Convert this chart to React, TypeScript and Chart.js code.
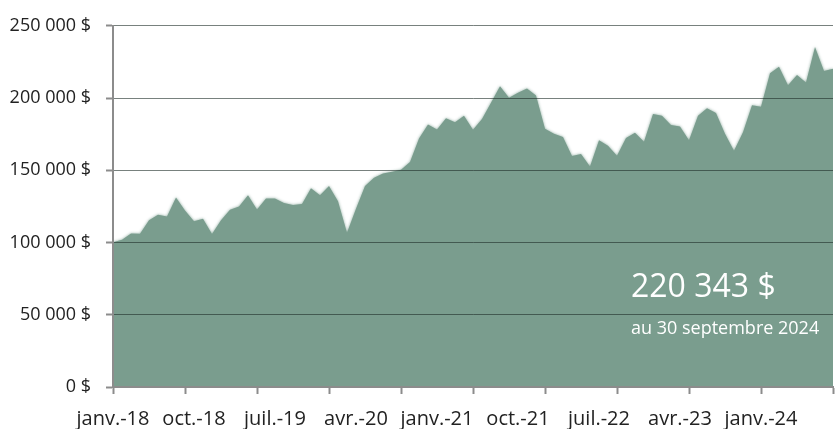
import React, { useEffect, useRef } from 'react';
import { Chart, registerables } from 'chart.js';

Chart.register(...registerables);

// ---- Data ----
const MONTH_NAMES = ['janv.', 'févr.', 'mars', 'avr.', 'mai', 'juin', 'juil.', 'août', 'sept.', 'oct.', 'nov.', 'déc.'];
const START_YEAR = 2018;

// Monthly portfolio value, janv.-18 .. sept.-24
const VALUES = [
  100200, 102000, 106300, 106000, 115400, 119200, 118000, 131200, 122200, 114700, 116500, 105900,
  115400, 122600, 124900, 132800, 122800, 130500, 130500, 127400, 126000, 126700, 137500, 132800,
  139100, 128500, 106800, 123300, 139100, 144800, 147700, 148900, 150400, 155700, 172000, 181700,
  178300, 186000, 183200, 187800, 178000, 185500, 196800, 208100, 200200, 203600, 206600, 201800,
  178700, 175300, 173000, 159800, 161300, 152700, 170800, 166900, 160000, 172400, 176000, 169700,
  188900, 187800, 181400, 180300, 170800, 187800, 193000, 189600, 175300, 163500, 176400, 195000,
  193900, 217100, 221700, 208800, 216000, 210800, 235300, 218800, 220343,
];

const CATEGORIES = VALUES.map(
  (_, i) => `${MONTH_NAMES[i % 12]}-${String((START_YEAR + Math.floor(i / 12)) % 100).padStart(2, '0')}`
);

const LABEL_EVERY = 9; // category labels every 9 months
const TICK_EVERY = 8; // tick marks every 8 months
const Y_TICKS = [0, 50000, 100000, 150000, 200000, 250000];

const FINAL_VALUE_TEXT = '220 343 $';
const FINAL_DATE_TEXT = 'au 30 septembre 2024';

// ---- Styles ----
const FONT = "'Open Sans', sans-serif";
const AREA = 'rgb(122,157,142)';
const AXIS = '#8c8c8c';
const TEXT = '#222222';

const fmtMoney = (v: number) => String(Math.round(v)).replace(/\B(?=(\d{3})+(?!\d))/g, ' ') + ' $';

const softEdge = {
  id: 'softEdge',
  beforeDatasetsDraw(chart: any) {
    const c = chart.ctx;
    c.save();
    c.shadowColor = 'rgba(122,157,142,0.9)';
    c.shadowBlur = 3;
  },
  afterDatasetsDraw(chart: any) {
    chart.ctx.restore();
  },
};

const annotation = {
  id: 'finalAnnotation',
  afterDraw(chart: any) {
    const c = chart.ctx;
    c.save();
    c.fillStyle = '#ffffff';
    c.textAlign = 'left';
    c.textBaseline = 'alphabetic';
    c.font = `32px ${FONT}`;
    c.fillText(FINAL_VALUE_TEXT, 631, 297);
    c.font = `18px ${FONT}`;
    c.fillText(FINAL_DATE_TEXT, 631, 334);
    c.restore();
  },
};

export default function App() {
  const ref = useRef<HTMLCanvasElement | null>(null);

  useEffect(() => {
    if (!ref.current) return;
    const xTickValues: number[] = [];
    for (let i = 0; i < VALUES.length; i++) {
      if (i % LABEL_EVERY === 0 || i % TICK_EVERY === 0) xTickValues.push(i);
    }
    const chart = new Chart(ref.current, {
      type: 'line',
      data: {
        datasets: [
          {
            data: VALUES.map((v, i) => ({ x: i, y: v })),
            fill: 'origin',
            backgroundColor: AREA,
            borderColor: AREA,
            borderWidth: 0,
            pointRadius: 0,
            tension: 0,
          },
        ],
      },
      options: {
        animation: false,
        responsive: false,
        devicePixelRatio: 1,
        layout: { padding: { top: 18, right: 3, bottom: 0, left: 0 } },
        plugins: { legend: { display: false }, tooltip: { enabled: false } },
        scales: {
          x: {
            type: 'linear',
            min: 0,
            max: VALUES.length - 1,
            afterBuildTicks: (s: any) => {
              s.ticks = xTickValues.map((v) => ({ value: v }));
            },
            afterFit: (s: any) => {
              s.height = 42;
            },
            ticks: {
              autoSkip: false,
              maxRotation: 0,
              minRotation: 0,
              padding: 13,
              color: TEXT,
              font: { family: FONT, size: 20 },
              callback: (v: any) => (v % LABEL_EVERY === 0 ? CATEGORIES[v] : ''),
            },
            grid: {
              z: 1,
              drawOnChartArea: false,
              drawTicks: true,
              tickLength: 7,
              tickWidth: 2,
              tickColor: (ctx: any) =>
                ctx.tick && ctx.tick.value % TICK_EVERY === 0 ? AXIS : 'rgba(0,0,0,0)',
            },
            border: { display: true, color: AXIS, width: 2, z: 2 },
          },
          y: {
            min: 0,
            max: 250000,
            afterBuildTicks: (s: any) => {
              s.ticks = Y_TICKS.map((v) => ({ value: v }));
            },
            afterFit: (s: any) => {
              s.width = 113;
            },
            ticks: {
              padding: 15,
              color: TEXT,
              font: { family: FONT, size: 18 },
              callback: (v: any) => fmtMoney(v),
            },
            grid: {
              z: 1,
              color: (ctx: any) => (ctx.tick && ctx.tick.value === 0 ? 'rgba(0,0,0,0)' : 'rgba(30,45,40,0.6)'),
              lineWidth: 1,
              drawTicks: true,
              tickLength: 7,
              tickWidth: 2,
              tickColor: AXIS,
            },
            border: { display: true, color: AXIS, width: 2, z: 2 },
          },
        },
      } as any,
      plugins: [softEdge, annotation],
    });
    return () => chart.destroy();
  }, []);

  return (
    <div
      style={{
        position: 'fixed',
        left: 0,
        top: 0,
        width: 836,
        height: 429,
        overflow: 'hidden',
        background: '#ffffff',
      }}
    >
      <canvas ref={ref} width={846} height={429} style={{ display: 'block' }} />
    </div>
  );
}
